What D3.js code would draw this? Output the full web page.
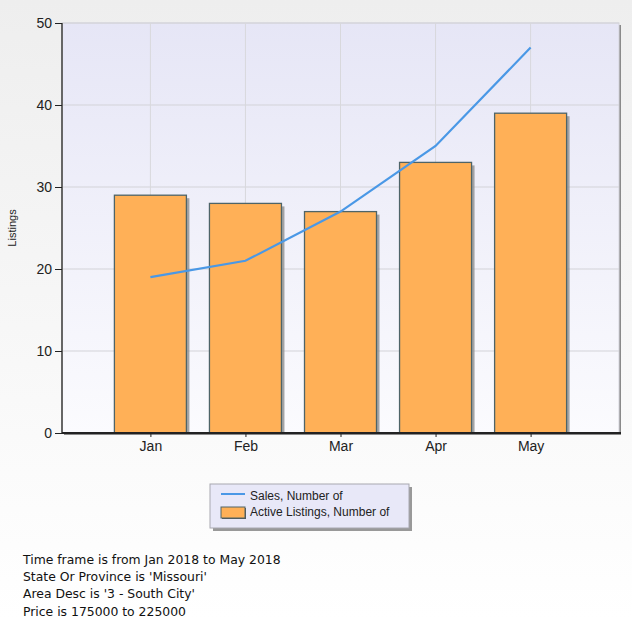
<!DOCTYPE html>
<html>
<head>
<meta charset="utf-8">
<script src="https://cdn.jsdelivr.net/npm/d3@7"></script>
<style>
body{margin:0;background:#fff;}
svg{display:block;}
</style>
</head>
<body>
<svg width="632" height="618"></svg>
<script>
const months=["Jan","Feb","Mar","Apr","May"];
const activeListings=[29,28,27,33,39];
const sales=[19,21,27,35,47];
const yTicks=[0,10,20,30,40,50];
const legendLabels=["Sales, Number of","Active Listings, Number of"];
const footerLines=["Time frame is from Jan 2018 to May 2018","State Or Province is 'Missouri'","Area Desc is '3 - South City'","Price is 175000 to 225000"];

const svg=d3.select("svg");
const pLeft=62, pRight=619, pTop=23, pBottom=433;

const defs=svg.append("defs");
const bg=defs.append("linearGradient").attr("id","bg").attr("x1",0).attr("y1",0).attr("x2",0).attr("y2",1);
bg.append("stop").attr("offset","0%").attr("stop-color","#eeeeee");
bg.append("stop").attr("offset","100%").attr("stop-color","#ffffff");
const pg=defs.append("linearGradient").attr("id","plotbg").attr("x1",0).attr("y1",0).attr("x2",0).attr("y2",1);
pg.append("stop").attr("offset","0%").attr("stop-color","#e6e6f6");
pg.append("stop").attr("offset","100%").attr("stop-color","#fbfbfe");

svg.append("rect").attr("width",632).attr("height",618).attr("fill","url(#bg)");

const x=d3.scalePoint().domain(months).range([pLeft,pRight]).padding(0.93);
const y=d3.scaleLinear().domain([0,50]).range([pBottom,pTop]);
const barW=72;

// plot area with shadow
svg.append("rect").attr("x",pLeft+2).attr("y",pTop+2).attr("width",pRight-pLeft).attr("height",pBottom-pTop).attr("fill","#8a8a8a");
svg.append("rect").attr("x",pLeft).attr("y",pTop).attr("width",pRight-pLeft).attr("height",pBottom-pTop).attr("fill","url(#plotbg)").attr("stroke","#d4d4dc");

// gridlines
svg.append("g").selectAll("line").data(yTicks.slice(1)).enter().append("line")
  .attr("x1",pLeft).attr("x2",pRight).attr("y1",d=>y(d)).attr("y2",d=>y(d))
  .attr("stroke","#d3d3d8").attr("stroke-width",1);
svg.append("g").selectAll("line").data(months).enter().append("line")
  .attr("x1",d=>x(d)).attr("x2",d=>x(d)).attr("y1",pTop).attr("y2",pBottom)
  .attr("stroke","#d8d8dc").attr("stroke-width",1);

// bars
const bars=svg.append("g");
bars.selectAll("rect.sh").data(activeListings).enter().append("rect").attr("class","sh")
  .attr("x",(d,i)=>x(months[i])-barW/2+3).attr("y",d=>y(d)+3)
  .attr("width",barW).attr("height",d=>y(0)-y(d)-3).attr("fill","#8f8f8f").attr("opacity",0.8);
bars.selectAll("rect.bar").data(activeListings).enter().append("rect").attr("class","bar")
  .attr("x",(d,i)=>x(months[i])-barW/2).attr("y",d=>y(d))
  .attr("width",barW).attr("height",d=>y(0)-y(d))
  .attr("fill","#ffb057").attr("stroke","#4e6468").attr("stroke-width",1.3);

// line
svg.append("path").datum(sales)
  .attr("d",d3.line().x((d,i)=>x(months[i])).y(d=>y(d)))
  .attr("fill","none").attr("stroke","#4a98e6").attr("stroke-width",2.2);

// axes
const yAxis=svg.append("g").attr("transform",`translate(${pLeft},0)`)
  .call(d3.axisLeft(y).tickValues(yTicks).tickSize(7).tickPadding(3));
yAxis.select(".domain").attr("stroke","#666").attr("stroke-width",2).attr("d",`M0,${pTop}V${pBottom}`);
yAxis.selectAll(".tick line").attr("stroke","#222");
yAxis.selectAll("text").attr("font-family","Liberation Sans, Arial, sans-serif").attr("font-size",14).attr("fill","#222");

const xAxis=svg.append("g").attr("transform",`translate(0,${pBottom})`)
  .call(d3.axisBottom(x).tickSize(4).tickPadding(4));
xAxis.select(".domain").attr("stroke","#222").attr("stroke-width",2).attr("d",`M${pLeft},0H${pRight+2}`);
xAxis.selectAll(".tick line").attr("stroke","#222");
xAxis.selectAll("text").attr("font-family","Liberation Sans, Arial, sans-serif").attr("font-size",14).attr("fill","#222");

svg.append("text").attr("transform","translate(16,228) rotate(-90)")
  .attr("text-anchor","middle").attr("font-family","Liberation Sans, Arial, sans-serif")
  .attr("font-size",11).attr("fill","#222").text("Listings");

// legend
const lg=svg.append("g").attr("transform","translate(210,484)");
lg.append("rect").attr("x",3).attr("y",3).attr("width",199).attr("height",44).attr("fill","#999");
lg.append("rect").attr("width",199).attr("height",44).attr("fill","#e8e8f8").attr("stroke","#a8a8b0");
lg.append("line").attr("x1",11).attr("x2",35).attr("y1",10).attr("y2",10).attr("stroke","#4a98e6").attr("stroke-width",2);
lg.append("rect").attr("x",12).attr("y",24).attr("width",24).attr("height",11).attr("fill","#555");
lg.append("rect").attr("x",11).attr("y",23).attr("width",24).attr("height",11).attr("fill","#ffb057").attr("stroke","#4e6468");
lg.selectAll("text").data(legendLabels).enter().append("text")
  .attr("x",40).attr("y",(d,i)=>16+i*16)
  .attr("font-family","Liberation Sans, Arial, sans-serif").attr("font-size",12).attr("fill","#222")
  .text(d=>d);

// footer
svg.append("g").selectAll("text").data(footerLines).enter().append("text")
  .attr("x",23).attr("y",(d,i)=>564+i*17.2)
  .attr("font-family","DejaVu Sans, Verdana, sans-serif").attr("font-size",12.4).attr("fill","#111")
  .text(d=>d);
</script>
</body>
</html>
